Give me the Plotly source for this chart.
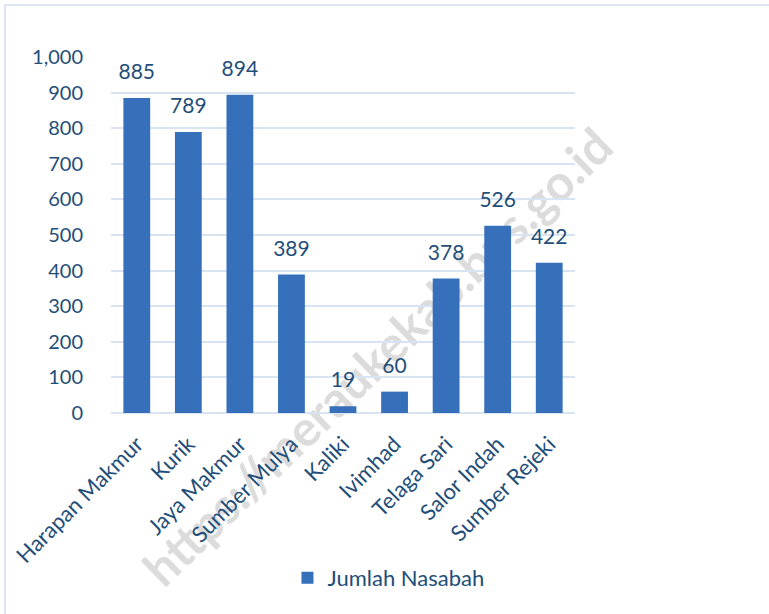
import plotly.graph_objects as go

# data
desa = ["Harapan Makmur", "Kurik", "Jaya Makmur", "Sumber Mulya", "Kaliki",
        "Ivimhad", "Telaga Sari", "Salor Indah", "Sumber Rejeki"]
nasabah = [885, 789, 894, 389, 19, 60, 378, 526, 422]
y_ticks = [0, 100, 200, 300, 400, 500, 600, 700, 800, 900, 1000]

text_color = "#1f4e79"
bar_color = "#3670ba"
grid_color = "#d9e4f2"

fig = go.Figure()

fig.add_trace(go.Bar(
    x=desa,
    y=nasabah,
    name="Jumlah Nasabah",
    marker=dict(color=bar_color, line=dict(width=0)),
    width=0.52,
))

# value labels, lifted above the bars by an invisible marker
fig.add_trace(go.Scatter(
    x=desa,
    y=nasabah,
    mode="markers+text",
    text=[str(v) for v in nasabah],
    textposition="top center",
    textfont=dict(size=21, color=text_color),
    marker=dict(size=20, opacity=0),
    showlegend=False,
    hoverinfo="skip",
    cliponaxis=False,
))

# watermark, kept behind grid and bars
fig.add_shape(
    type="line", xref="paper", yref="paper",
    x0=0.108, y0=-0.55, x1=1.131, y1=0.745,
    line=dict(width=0, color="rgba(0,0,0,0)"),
    layer="below",
    label=dict(
        text="https://meraukekab.bps.go.id",
        textposition="middle",
        font=dict(family="Lato", size=49, color="#dcdcdc", weight="bold"),
    ),
)

# chart border
fig.add_shape(
    type="rect", xref="paper", yref="paper",
    x0=-0.2285, x1=1.6, y0=-1.0, y1=1.146,
    line=dict(color="#dce6f2", width=2),
    fillcolor="rgba(0,0,0,0)",
    layer="below",
)

fig.update_layout(
    width=769,
    height=614,
    margin=dict(l=111, r=194, t=57, b=201),
    paper_bgcolor="white",
    plot_bgcolor="rgba(0,0,0,0)",
    font=dict(family="Lato", color=text_color, size=20),
    showlegend=True,
    legend=dict(
        orientation="h",
        x=0.598, xanchor="center",
        y=-0.463, yanchor="middle",
        font=dict(size=22, color=text_color),
    ),
    yaxis=dict(
        range=[0, 1000],
        tickvals=y_ticks,
        tickformat=",",
        showgrid=True,
        gridcolor=grid_color,
        gridwidth=1.5,
        zeroline=True,
        zerolinecolor=grid_color,
        zerolinewidth=1.5,
        ticks="",
        ticklabelstandoff=27,
        automargin=False,
        tickfont=dict(size=20, color=text_color),
    ),
    xaxis=dict(
        range=[-0.5, len(desa) - 0.5],
        tickangle=-45,
        showgrid=False,
        ticks="",
        ticklabelstandoff=13,
        automargin=False,
        tickfont=dict(size=22, color=text_color),
    ),
    bargap=0.48,
)

fig.write_html("out.html", config={"displayModeBar": False},
               post_script="document.body.style.margin = '0px';")
